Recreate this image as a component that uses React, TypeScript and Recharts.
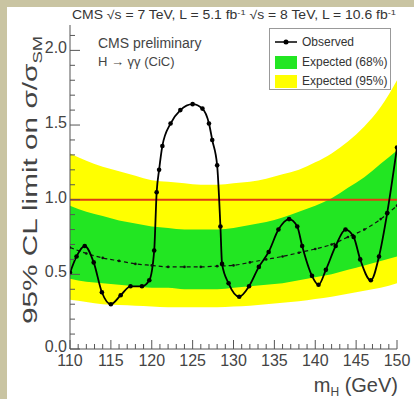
import {
  ComposedChart,
  Area,
  Line,
  XAxis,
  YAxis,
  ReferenceLine,
  Legend,
} from "recharts";

// expected limit bands, 2 GeV grid
const mass = [110, 112, 114, 116, 118, 120, 122, 124, 126, 128, 130, 132, 134, 136, 138, 140, 142, 144, 146, 148, 150];
const expMedian = [0.68, 0.64, 0.61, 0.59, 0.57, 0.56, 0.55, 0.55, 0.55, 0.555, 0.56, 0.58, 0.6, 0.62, 0.645, 0.67, 0.7, 0.75, 0.8, 0.87, 0.96];
const band68Lo = [0.47, 0.45, 0.44, 0.43, 0.42, 0.41, 0.41, 0.4, 0.4, 0.4, 0.41, 0.42, 0.43, 0.44, 0.46, 0.48, 0.5, 0.53, 0.56, 0.59, 0.62];
const band68Hi = [0.96, 0.92, 0.89, 0.86, 0.84, 0.82, 0.81, 0.8, 0.8, 0.8, 0.81, 0.83, 0.85, 0.88, 0.92, 0.96, 1.01, 1.08, 1.15, 1.24, 1.33];
const band95Lo = [0.33, 0.315, 0.3, 0.295, 0.29, 0.285, 0.28, 0.28, 0.28, 0.28, 0.285, 0.29, 0.3, 0.31, 0.32, 0.335, 0.35, 0.37, 0.39, 0.41, 0.44];
const band95Hi = [1.31, 1.26, 1.22, 1.19, 1.16, 1.13, 1.12, 1.11, 1.1, 1.1, 1.11, 1.12, 1.14, 1.17, 1.2, 1.25, 1.31, 1.39, 1.49, 1.62, 1.8];

// observed limit
const obsMass = [110.0, 110.8, 111.8, 112.9, 113.9, 115.0, 116.2, 117.4, 118.8, 119.7, 120.3, 120.6, 120.9, 121.3, 122.3, 123.5, 125.0, 126.2, 127.0, 127.4, 128.0, 128.4, 128.6, 129.4, 130.7, 131.9, 133.1, 134.3, 135.5, 136.8, 137.8, 138.4, 139.6, 140.4, 141.3, 142.5, 143.7, 144.7, 145.5, 146.8, 147.8, 148.8, 150.0];
const obsLimit = [0.51, 0.62, 0.69, 0.58, 0.38, 0.3, 0.36, 0.42, 0.42, 0.46, 0.66, 1.05, 1.2, 1.36, 1.51, 1.6, 1.64, 1.61, 1.51, 1.4, 1.23, 0.82, 0.57, 0.44, 0.35, 0.42, 0.55, 0.65, 0.8, 0.87, 0.82, 0.69, 0.49, 0.43, 0.53, 0.69, 0.8, 0.75, 0.6, 0.46, 0.62, 0.91, 1.35];

const xTicks = Array.from({ length: 41 }, (_, i) => 110 + i);
const yTicks = Array.from({ length: 22 }, (_, i) => i / 10);

const bandData = mass.map((m, i) => ({
  m,
  median: expMedian[i],
  b68: [band68Lo[i], band68Hi[i]],
  b95: [band95Lo[i], band95Hi[i]],
}));
const obsData = obsMass.map((m, i) => ({ m, obs: obsLimit[i] }));

const FONT = "'Liberation Sans', Arial, sans-serif";
const AXIS = "#555";

const BottomTick = ({ x, y, payload }: any) => {
  const major = payload.value % 5 === 0;
  return (
    <g>
      <line x1={x} x2={x} y1={y} y2={y - (major ? 9 : 5)} stroke={AXIS} />
      {major && (
        <text x={x} y={y + 17} textAnchor="middle" fontSize={16} fill="#444" fontFamily={FONT}>
          {payload.value}
        </text>
      )}
    </g>
  );
};

const TopTick = ({ x, y, payload }: any) => {
  const major = payload.value % 5 === 0;
  return <line x1={x} x2={x} y1={y} y2={y + (major ? 9 : 5)} stroke={AXIS} />;
};

const LeftTick = ({ x, y, payload }: any) => {
  const major = Math.round(payload.value * 10) % 5 === 0;
  return (
    <g>
      <line x1={x} x2={x + (major ? 10 : 5)} y1={y} y2={y} stroke={AXIS} />
      {major && (
        <text x={x - 3} y={y + 3} textAnchor="end" fontSize={16} fill="#444" fontFamily={FONT}>
          {payload.value.toFixed(1)}
        </text>
      )}
    </g>
  );
};

const RightTick = ({ x, y, payload }: any) => {
  const major = Math.round(payload.value * 10) % 5 === 0;
  return <line x1={x} x2={x - (major ? 10 : 5)} y1={y} y2={y} stroke={AXIS} />;
};

const LegendBox = () => (
  <div
    style={{
      border: "1px solid #999",
      background: "#fff",
      fontFamily: FONT,
      fontSize: 12,
      color: "#333",
      height: 62,
      boxSizing: "border-box",
      padding: "3px 0 0 5px",
    }}
  >
    <div style={{ display: "flex", alignItems: "center", height: 20 }}>
      <svg width={22} height={10}>
        <line x1={0} x2={22} y1={5} y2={5} stroke="#000" strokeWidth={1.5} />
        <circle cx={11} cy={5} r={2.5} fill="#000" />
      </svg>
      <span style={{ marginLeft: 5 }}>Observed</span>
    </div>
    <div style={{ display: "flex", alignItems: "center", height: 20 }}>
      <div style={{ width: 22, height: 13, background: "#22e622" }} />
      <span style={{ marginLeft: 5 }}>Expected (68%)</span>
    </div>
    <div style={{ display: "flex", alignItems: "center", height: 18 }}>
      <div style={{ width: 22, height: 13, background: "#ffff00" }} />
      <span style={{ marginLeft: 5 }}>Expected (95%)</span>
    </div>
  </div>
);

export default function App() {
  return (
    <div style={{ position: "absolute", left: 0, top: 0, width: 414, height: 399, background: "#c9c4a2" }}>
      <div style={{ position: "absolute", left: 7, top: 7, width: 407, height: 392, background: "#fff" }} />
      <div style={{ position: "absolute", left: 0, top: 0 }}>
        <ComposedChart
          width={414}
          height={399}
          data={bandData}
          margin={{ top: 25, right: 17, bottom: 0, left: 0 }}
        >
          <XAxis
            dataKey="m"
            type="number"
            domain={[110, 150]}
            ticks={xTicks}
            interval={0}
            height={50}
            tickSize={0}
            tickMargin={0}
            tickLine={false}
            axisLine={{ stroke: AXIS }}
            tick={<BottomTick />}
            allowDataOverflow
          />
          <XAxis
            xAxisId="top"
            orientation="top"
            type="number"
            domain={[110, 150]}
            ticks={xTicks}
            interval={0}
            height={0}
            tickSize={0}
            tickMargin={0}
            tickLine={false}
            axisLine={{ stroke: AXIS }}
            tick={<TopTick />}
            allowDataOverflow
          />
          <YAxis
            type="number"
            domain={[0, 2.17]}
            ticks={yTicks}
            interval={0}
            width={70}
            tickSize={0}
            tickMargin={0}
            tickLine={false}
            axisLine={{ stroke: AXIS }}
            tick={<LeftTick />}
            allowDataOverflow
          />
          <YAxis
            yAxisId="right"
            orientation="right"
            type="number"
            domain={[0, 2.17]}
            ticks={yTicks}
            interval={0}
            width={0}
            tickSize={0}
            tickMargin={0}
            tickLine={false}
            axisLine={{ stroke: AXIS }}
            tick={<RightTick />}
            allowDataOverflow
          />
          <Area
            type="monotone"
            dataKey="b95"
            fill="#ffff00"
            fillOpacity={1}
            stroke="none"
            isAnimationActive={false}
          />
          <Area
            type="monotone"
            dataKey="b68"
            fill="#22e622"
            fillOpacity={1}
            stroke="none"
            isAnimationActive={false}
          />
          <ReferenceLine y={1} stroke="#e03c14" strokeWidth={2} />
          <Line
            type="monotone"
            dataKey="median"
            stroke="#111"
            strokeWidth={1.2}
            strokeDasharray="4 3"
            dot={{ r: 1.3, fill: "#111", stroke: "none" }}
            isAnimationActive={false}
          />
          <Line
            data={obsData}
            type="monotone"
            dataKey="obs"
            stroke="#000"
            strokeWidth={1.8}
            dot={{ r: 2.3, fill: "#000", stroke: "none" }}
            isAnimationActive={false}
          />
          <Legend
            layout="vertical"
            align="center"
            verticalAlign="middle"
            content={<LegendBox />}
            wrapperStyle={{ position: "absolute", left: 269, top: 28, width: 122, height: 62 }}
          />
        </ComposedChart>
      </div>
      <svg
        width={414}
        height={399}
        style={{ position: "absolute", left: 0, top: 0, pointerEvents: "none" }}
        fontFamily={FONT}
      >
        <text x={72} y={19} fontSize={12} fill="#333" textLength={324} lengthAdjust="spacingAndGlyphs">
          CMS √s = 7 TeV, L = 5.1 fb<tspan dy={-4} fontSize={8}>-1</tspan>
          <tspan dy={4}> √s = 8 TeV, L = 10.6 fb</tspan>
          <tspan dy={-4} fontSize={8}>-1</tspan>
        </text>
        <text x={98} y={48} fontSize={14} fill="#444">CMS preliminary</text>
        <text x={98} y={66} fontSize={13} fill="#444">H → γγ   (CiC)</text>
        <text
          transform="translate(37,36) rotate(-90)"
          textAnchor="end"
          fontSize={21}
          fill="#444"
          textLength={288}
          lengthAdjust="spacingAndGlyphs"
        >
          95% CL limit on σ/σ<tspan dy={5} fontSize={13}>SM</tspan>
        </text>
        <text x={398} y={392} textAnchor="end" fontSize={20} fill="#444">
          m<tspan dy={4} fontSize={12}>H</tspan>
          <tspan dy={-4}> (GeV)</tspan>
        </text>
      </svg>
    </div>
  );
}
